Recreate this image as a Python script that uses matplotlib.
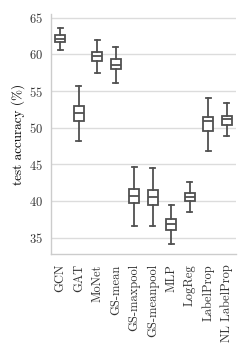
import matplotlib
matplotlib.use("Agg")
import matplotlib.pyplot as plt

models = ["GCN", "GAT", "MoNet", "GS-mean", "GS-maxpool", "GS-meanpool",
          "MLP", "LogReg", "LabelProp", "NL LabelProp"]
whislo = [60.55, 48.2, 57.5, 56.1, 36.6, 36.55, 34.1, 38.5, 46.8, 48.9]
q1 = [61.7, 50.95, 59.15, 57.95, 39.7, 39.5, 36.1, 39.95, 49.6, 50.4]
med = [62.1, 52.0, 59.8, 58.6, 40.7, 40.6, 36.8, 40.55, 50.85, 51.2]
q3 = [62.6, 53.0, 60.35, 59.3, 41.65, 41.5, 37.5, 41.05, 51.45, 51.65]
whishi = [63.6, 55.7, 61.95, 61.05, 44.6, 44.45, 39.5, 42.6, 54.0, 53.3]

plt.rcParams['font.family'] = ['cmr10', 'DejaVu Serif']
plt.rcParams['axes.formatter.use_mathtext'] = True
plt.rcParams['font.size'] = 9

stats = []
for i in range(len(models)):
    stats.append(dict(label=models[i], whislo=whislo[i], q1=q1[i], med=med[i],
                      q3=q3[i], whishi=whishi[i], fliers=[]))

fig = plt.figure(figsize=(2.5, 3.51), dpi=100)
ax = fig.add_axes([0.204, 0.275, 0.74, 0.685])

lc = "#505050"
lw = 1.3
ax.bxp(stats, positions=range(len(models)), widths=0.55, patch_artist=True,
       showfliers=False,
       boxprops=dict(facecolor="white", edgecolor=lc, linewidth=lw),
       medianprops=dict(color=lc, linewidth=lw),
       whiskerprops=dict(color=lc, linewidth=lw),
       capprops=dict(color=lc, linewidth=lw))

ax.set_xlim(-0.5, len(models) - 0.5)
ax.set_ylim(32.7, 65.5)
ax.set_yticks([35, 40, 45, 50, 55, 60, 65])
ax.set_xticks(range(len(models)))
ax.set_xticklabels(models, rotation=90)
ax.set_ylabel("test accuracy (%)", fontsize=9.5, labelpad=3)

ax.yaxis.grid(True, color="#dcdcdc", linewidth=1.0)
ax.set_axisbelow(True)
for s in ["top", "right"]:
    ax.spines[s].set_visible(False)
for s in ["left", "bottom"]:
    ax.spines[s].set_color("#cccccc")
    ax.spines[s].set_linewidth(1.0)
ax.tick_params(length=0, colors="#333333")
ax.tick_params(axis="y", pad=5.5)
ax.tick_params(axis="x", pad=7)

fig.savefig("out.png", dpi=100)
